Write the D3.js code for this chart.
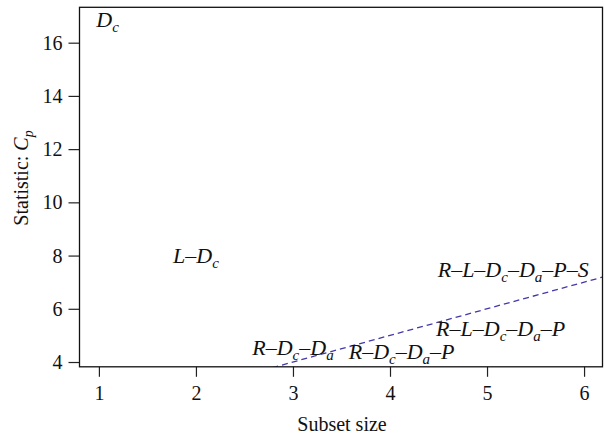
<!DOCTYPE html>
<html><head><meta charset="utf-8">
<script src="https://cdn.jsdelivr.net/npm/d3@7"></script>
<style>
body{margin:0;background:#fff;}
svg{display:block;}
text{font-family:"Liberation Serif","Times New Roman",serif;}
</style></head>
<body>
<svg id="chart" width="605" height="437"></svg>
<script>
// Data
const modelLabels = ["D_c", "L–D_c", "R–D_c–D_a", "R–D_c–D_a–P", "R–L–D_c–D_a–P", "R–L–D_c–D_a–P–S"];
const subsetSizes = [1.09, 2.0, 3.0, 4.12, 5.14, 5.27];
const cpValues = [16.89, 8.0, 4.55, 4.42, 5.26, 7.47];
const xTicks = [1, 2, 3, 4, 5, 6];
const yTicks = [4, 6, 8, 10, 12, 14, 16];
const refLineX = [0.8, 6.19]; // Cp = p reference line (size + 1)

(function(){
const SERIF = '"Liberation Serif","Times New Roman",serif';
const svg = d3.select("#chart");
const mL = 79.5, mR = 602.5, mT = 7.3, mB = 366.8;
const x = d3.scaleLinear().domain([0.8, 6.19]).range([mL, mR]);
const y = d3.scaleLinear().domain([3.82, 17.33]).range([mB, mT]);

svg.append("clipPath").attr("id","clip").append("rect")
  .attr("x", mL).attr("y", mT).attr("width", mR-mL).attr("height", mB-mT);

// reference line
svg.append("line")
  .attr("clip-path","url(#clip)")
  .attr("x1", x(refLineX[0])).attr("y1", y(refLineX[0]+1))
  .attr("x2", x(refLineX[1])).attr("y2", y(refLineX[1]+1))
  .attr("stroke", "#4338a8").attr("stroke-width", 1.3)
  .attr("stroke-dasharray", "6,4");

// axes
const xAxis = d3.axisBottom(x).tickValues(xTicks).tickFormat(d3.format("d")).tickSize(10).tickSizeOuter(0);
const gx = svg.append("g").attr("transform", `translate(0,${mB})`).call(xAxis)
  .attr("font-family", SERIF).attr("font-size", 20);
gx.select(".domain").remove();
gx.selectAll("text").attr("y", 33).attr("dy", 0).attr("fill","#111");
gx.selectAll("line").attr("stroke","#222").attr("stroke-width",1.2);

const yAxis = d3.axisLeft(y).tickValues(yTicks).tickFormat(d3.format("d")).tickSize(11).tickSizeOuter(0);
const gy = svg.append("g").attr("transform", `translate(${mL},0)`).call(yAxis)
  .attr("font-family", SERIF).attr("font-size", 20);
gy.select(".domain").remove();
gy.selectAll("text").attr("x", -17).attr("dy", "0.33em").attr("fill","#111");
gy.selectAll("line").attr("stroke","#222").attr("stroke-width",1.2);

// frame
svg.append("rect").attr("x", mL).attr("y", mT).attr("width", mR-mL).attr("height", mB-mT)
  .attr("fill","none").attr("stroke","#111").attr("stroke-width",1.3);

// axis titles
svg.append("text").attr("x", 342).attr("y", 431)
  .attr("text-anchor","middle").attr("font-size", 20).attr("fill","#111").text("Subset size");

const yl = svg.append("text").attr("transform", `translate(28,178) rotate(-90)`)
  .attr("text-anchor","middle").attr("font-size", 20).attr("fill","#111");
yl.append("tspan").text("Statistic: ");
yl.append("tspan").attr("font-style","italic").text("C");
yl.append("tspan").attr("font-style","italic").attr("font-size", 14).attr("dy", 5).text("p");

// model labels
modelLabels.forEach((lab, i) => {
  const t = svg.append("text")
    .attr("x", x(subsetSizes[i])).attr("y", y(cpValues[i]))
    .attr("dy", "0.35em")
    .attr("text-anchor","middle").attr("font-size", 22).attr("font-style","italic").attr("fill","#111");
  const parts = lab.split(/(_[a-z])/).filter(s => s.length);
  let sub = false;
  parts.forEach(p => {
    if (p[0] === "_") {
      t.append("tspan").attr("font-size", 15).attr("dy", 5).text(p.slice(1));
      sub = true;
    } else {
      const s = t.append("tspan").text(p);
      if (sub) { s.attr("dy", -5); sub = false; }
    }
  });
});
})();
</script>
</body></html>
